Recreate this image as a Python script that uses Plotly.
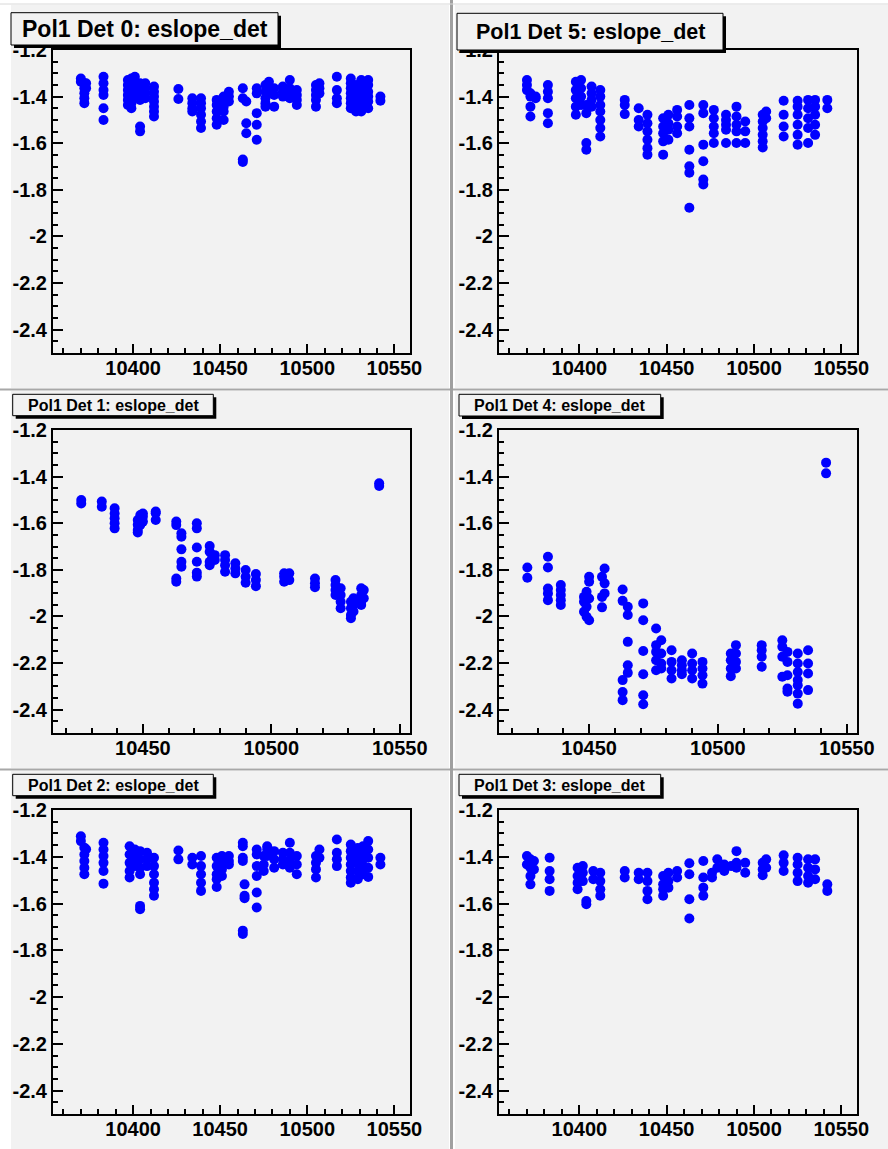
import plotly.graph_objects as go

W, H = 888, 1149

# ---------------- data (run number -> eslope values) ----------------
det0_runs = [10370, 10372, 10373, 10383, 10397, 10399, 10401, 10404, 10407, 10412,
             10426, 10434, 10439, 10448, 10452, 10455, 10463, 10465, 10471, 10476,
             10478, 10481, 10486, 10490, 10494, 10505, 10507, 10517, 10525, 10528,
             10531, 10535, 10542]
det0_vals = [[-1.322, -1.336], [-1.343, -1.364, -1.386, -1.407, -1.428], [-1.343, -1.364],
             [-1.315, -1.343, -1.372, -1.393, -1.450, -1.500],
             [-1.329, -1.350, -1.372, -1.393, -1.414, -1.436],
             [-1.322, -1.343, -1.364, -1.386, -1.407, -1.428, -1.450],
             [-1.315, -1.343, -1.372, -1.400],
             [-1.343, -1.364, -1.393, -1.414, -1.528, -1.549],
             [-1.343, -1.364, -1.386, -1.407],
             [-1.357, -1.379, -1.400, -1.421, -1.443, -1.464, -1.485],
             [-1.367, -1.410], [-1.407, -1.428, -1.450, -1.464],
             [-1.407, -1.428, -1.450, -1.478, -1.507, -1.535],
             [-1.414, -1.436, -1.464, -1.493, -1.521],
             [-1.400, -1.421, -1.443, -1.464, -1.500], [-1.379, -1.400, -1.421],
             [-1.364, -1.407, -1.670, -1.680], [-1.421, -1.514, -1.557],
             [-1.364, -1.386, -1.471, -1.521, -1.585],
             [-1.350, -1.379, -1.407, -1.428, -1.443], [-1.336, -1.364, -1.386],
             [-1.364, -1.393, -1.443], [-1.357, -1.379, -1.400],
             [-1.329, -1.364, -1.386, -1.407], [-1.372, -1.393, -1.414, -1.436],
             [-1.350, -1.372, -1.393, -1.414, -1.443], [-1.343, -1.364, -1.386],
             [-1.315, -1.372, -1.407, -1.428],
             [-1.322, -1.343, -1.364, -1.386, -1.407, -1.428, -1.450],
             [-1.350, -1.379, -1.407, -1.436, -1.464],
             [-1.329, -1.357, -1.386, -1.414, -1.443, -1.464],
             [-1.329, -1.350, -1.379, -1.400, -1.421, -1.450], [-1.400, -1.418]]

det5_runs = [10370, 10372, 10375, 10382, 10398, 10401, 10404, 10407, 10412, 10426,
             10434, 10439, 10448, 10451, 10456, 10463, 10471, 10477, 10484, 10490,
             10495, 10505, 10507, 10517, 10525, 10531, 10535, 10542]
det5_vals = [[-1.329, -1.350, -1.372], [-1.386, -1.400, -1.443, -1.485], [-1.400, -1.407],
             [-1.350, -1.379, -1.407, -1.471, -1.514],
             [-1.336, -1.372, -1.407, -1.443, -1.478], [-1.329, -1.364, -1.400, -1.436],
             [-1.436, -1.471, -1.599, -1.628], [-1.357, -1.386, -1.414, -1.443],
             [-1.372, -1.400, -1.436, -1.464, -1.500, -1.535, -1.571],
             [-1.414, -1.436, -1.475], [-1.450, -1.500, -1.528],
             [-1.478, -1.514, -1.549, -1.585, -1.621, -1.649],
             [-1.493, -1.528, -1.557, -1.592, -1.649], [-1.478, -1.514, -1.542, -1.585],
             [-1.457, -1.485, -1.528, -1.557],
             [-1.436, -1.493, -1.528, -1.628, -1.699, -1.727, -1.877],
             [-1.436, -1.471, -1.606, -1.677, -1.756, -1.777],
             [-1.457, -1.493, -1.528, -1.557, -1.599],
             [-1.478, -1.500, -1.521, -1.542, -1.599],
             [-1.443, -1.485, -1.521, -1.549, -1.599], [-1.507, -1.549, -1.599],
             [-1.478, -1.507, -1.535, -1.564, -1.592, -1.618], [-1.464, -1.493],
             [-1.418, -1.478, -1.528, -1.571],
             [-1.418, -1.443, -1.478, -1.521, -1.564, -1.606],
             [-1.414, -1.450, -1.493, -1.535, -1.599],
             [-1.414, -1.443, -1.478, -1.521, -1.564], [-1.414, -1.450]]

det1_runs = [10426, 10434, 10439, 10448, 10449, 10450, 10455, 10463, 10465, 10471,
             10476, 10477, 10478, 10482, 10486, 10490, 10494, 10505, 10507, 10517,
             10525, 10527, 10531, 10532, 10535, 10536, 10542]
det1_vals = [[-1.500, -1.515], [-1.507, -1.529], [-1.536, -1.558, -1.579, -1.600, -1.622],
             [-1.586, -1.607, -1.629, -1.640], [-1.565, -1.586, -1.607],
             [-1.558, -1.572, -1.593], [-1.550, -1.557, -1.586],
             [-1.593, -1.608, -1.837, -1.851], [-1.643, -1.658, -1.712, -1.765, -1.787],
             [-1.600, -1.622, -1.704, -1.765, -1.812, -1.829],
             [-1.698, -1.722, -1.765, -1.780], [-1.737, -1.751], [-1.737, -1.758],
             [-1.737, -1.758, -1.780, -1.808], [-1.772, -1.794, -1.815],
             [-1.801, -1.830, -1.855], [-1.818, -1.844, -1.870],
             [-1.815, -1.830, -1.851], [-1.815, -1.844], [-1.837, -1.858, -1.875],
             [-1.844, -1.865, -1.887, -1.908], [-1.879, -1.908, -1.937, -1.965],
             [-1.937, -1.965, -1.994, -2.008], [-1.922, -1.951, -1.979],
             [-1.879, -1.908, -1.937, -1.951], [-1.887, -1.922], [-1.429, -1.440]]

det4_runs = [10426, 10434, 10439, 10448, 10449, 10450, 10455, 10456, 10463, 10465,
             10471, 10476, 10478, 10482, 10486, 10490, 10494, 10505, 10507, 10517,
             10525, 10527, 10531, 10535, 10542]
det4_vals = [[-1.790, -1.834], [-1.744, -1.790, -1.880, -1.901, -1.930],
             [-1.865, -1.887, -1.908, -1.930, -1.951], [-1.916, -1.937, -1.980],
             [-1.894, -1.958, -2.001], [-1.830, -1.851, -1.923, -2.016],
             [-1.830, -1.916, -1.961], [-1.794, -1.858, -1.901],
             [-1.884, -1.933, -2.273, -2.324, -2.359],
             [-1.958, -1.994, -2.109, -2.209, -2.242],
             [-1.944, -2.016, -2.148, -2.248, -2.338, -2.377],
             [-2.052, -2.123, -2.152, -2.188, -2.231], [-2.102, -2.159, -2.202, -2.223],
             [-2.145, -2.195, -2.231, -2.266], [-2.188, -2.209, -2.231, -2.248],
             [-2.159, -2.202, -2.231, -2.266], [-2.195, -2.223, -2.252, -2.288],
             [-2.159, -2.188, -2.223, -2.256], [-2.123, -2.159, -2.195, -2.223],
             [-2.123, -2.145, -2.173, -2.216], [-2.102, -2.130, -2.173, -2.259],
             [-2.152, -2.195, -2.252, -2.309, -2.323],
             [-2.159, -2.202, -2.238, -2.273, -2.295, -2.331, -2.374],
             [-2.145, -2.202, -2.245, -2.316], [-1.340, -1.386]]

det2_runs = [10370, 10372, 10373, 10383, 10398, 10401, 10404, 10408, 10412, 10426,
             10434, 10439, 10448, 10451, 10455, 10463, 10464, 10471, 10475, 10477,
             10481, 10486, 10490, 10494, 10505, 10507, 10517, 10525, 10529, 10532,
             10535, 10542]
det2_vals = [[-1.312, -1.333], [-1.361, -1.390, -1.418, -1.447, -1.475], [-1.368],
             [-1.340, -1.369, -1.397, -1.426, -1.461, -1.515],
             [-1.355, -1.390, -1.426, -1.461, -1.489], [-1.369, -1.404, -1.440],
             [-1.376, -1.411, -1.447, -1.475, -1.610, -1.624],
             [-1.383, -1.411, -1.440],
             [-1.404, -1.440, -1.475, -1.511, -1.539, -1.567],
             [-1.373, -1.411], [-1.404, -1.433],
             [-1.397, -1.440, -1.475, -1.511, -1.546],
             [-1.404, -1.440, -1.475, -1.496, -1.529],
             [-1.397, -1.426, -1.454, -1.482], [-1.397, -1.418, -1.433],
             [-1.340, -1.355, -1.404, -1.418, -1.716, -1.730], [-1.518, -1.567, -1.577],
             [-1.369, -1.390, -1.440, -1.482, -1.553, -1.617],
             [-1.397, -1.433, -1.461], [-1.355, -1.369, -1.397],
             [-1.376, -1.411, -1.447], [-1.383, -1.411, -1.433],
             [-1.340, -1.383, -1.418, -1.447], [-1.397, -1.433, -1.475],
             [-1.397, -1.426, -1.454, -1.489], [-1.369, -1.404],
             [-1.326, -1.383, -1.411, -1.440],
             [-1.348, -1.376, -1.404, -1.433, -1.461, -1.489, -1.511],
             [-1.362, -1.397, -1.426, -1.461, -1.496],
             [-1.355, -1.383, -1.411, -1.440, -1.475],
             [-1.333, -1.369, -1.404, -1.447, -1.486], [-1.404, -1.433]]

det3_runs = [10370, 10372, 10374, 10383, 10399, 10402, 10404, 10408, 10412, 10426,
             10434, 10439, 10448, 10451, 10456, 10463, 10471, 10476, 10479, 10483,
             10487, 10490, 10495, 10505, 10507, 10517, 10525, 10531, 10535, 10542]
det3_vals = [[-1.397, -1.433], [-1.411, -1.447, -1.482, -1.518], [-1.418, -1.454],
             [-1.404, -1.461, -1.496, -1.546], [-1.447, -1.482, -1.511, -1.539],
             [-1.440, -1.468, -1.504], [-1.589, -1.603], [-1.461, -1.496],
             [-1.468, -1.504, -1.539, -1.567], [-1.461, -1.489], [-1.468, -1.496],
             [-1.468, -1.504, -1.546, -1.582], [-1.482, -1.518, -1.539, -1.567],
             [-1.468, -1.504, -1.532], [-1.461, -1.489],
             [-1.428, -1.475, -1.582, -1.664], [-1.418, -1.489, -1.532, -1.567],
             [-1.468, -1.489], [-1.411, -1.447], [-1.433, -1.461], [-1.440],
             [-1.376, -1.426, -1.447], [-1.426, -1.468], [-1.426, -1.454, -1.479],
             [-1.411, -1.447], [-1.394, -1.426, -1.461],
             [-1.404, -1.433, -1.468, -1.504], [-1.411, -1.447, -1.482, -1.511],
             [-1.411, -1.454, -1.496], [-1.518, -1.546]]

titles = ["Pol1 Det 0: eslope_det", "Pol1 Det 5: eslope_det",
          "Pol1 Det 1: eslope_det", "Pol1 Det 4: eslope_det",
          "Pol1 Det 2: eslope_det", "Pol1 Det 3: eslope_det"]

ytick_vals = [-1.2, -1.4, -1.6, -1.8, -2.0, -2.2, -2.4]
ytick_text = ["-1.2", "-1.4", "-1.6", "-1.8", "-2", "-2.2", "-2.4"]
xtick_vals = [10400, 10450, 10500, 10550]
xtick_text = ["10400", "10450", "10500", "10550"]

y_range = [-2.5, -1.2]
x_range_full = [10354, 10559]
x_range_mid = [10415, 10554]

# ---------------- layout helpers ----------------
def px(x):
    return x / W


def py(y):
    return 1 - y / H


panels = [
    # runs, vals, frame(x0,y0,x1,y1) px, xrange, title box px, title size
    (det0_runs, det0_vals, (53, 50, 410, 353), x_range_full, (11, 12.7, 278, 45), 23),
    (det5_runs, det5_vals, (499, 50, 857, 353), x_range_full, (457, 13.3, 723, 50), 21.5),
    (det1_runs, det1_vals, (53, 430, 410, 733), x_range_mid, (12.7, 394.3, 213.3, 415.7), 16),
    (det4_runs, det4_vals, (499, 430, 857, 733), x_range_mid, (459, 394.3, 660.7, 416), 16),
    (det2_runs, det2_vals, (53, 810, 410, 1114), x_range_full, (12.7, 774.3, 213.3, 795.7), 16),
    (det3_runs, det3_vals, (499, 810, 857, 1114), x_range_full, (459, 774.3, 660.7, 795.7), 16),
]

BG = "#f2f2f2"
fig = go.Figure()
shapes = []
annotations = []
layout = {}

# pads
pads = [(11, 5, 449, 388), (455, 5, 888, 388),
        (11, 391, 449, 768), (455, 391, 888, 768),
        (11, 771, 449, 1149), (455, 771, 888, 1149)]
for (x0, y0, x1, y1) in pads:
    shapes.append(dict(type="rect", xref="paper", yref="paper", layer="below",
                       x0=px(x0), x1=px(x1), y0=py(y1), y1=py(y0),
                       fillcolor=BG, line=dict(width=0)))
# separators
for yy in (389.5, 769.5):
    shapes.append(dict(type="line", xref="paper", yref="paper", layer="below",
                       x0=0, x1=1, y0=py(yy), y1=py(yy),
                       line=dict(color="#a8a8a8", width=2)))
shapes.append(dict(type="line", xref="paper", yref="paper", layer="below",
                   x0=px(451.5), x1=px(451.5), y0=0, y1=1,
                   line=dict(color="#a0a0a0", width=3)))
shapes.append(dict(type="line", xref="paper", yref="paper", layer="below",
                   x0=0, x1=1, y0=py(4), y1=py(4),
                   line=dict(color="#d8d8d8", width=1)))

tickfont = dict(family="Liberation Sans, Arial, sans-serif", size=20, color="black",
                weight="bold")

for i, (runs, vals, frame, xr, tbox, tsize) in enumerate(panels):
    n = i + 1
    xs, ys = [], []
    for r, vs in zip(runs, vals):
        for v in vs:
            xs.append(r)
            ys.append(v)
    xa = "x" if n == 1 else f"x{n}"
    ya = "y" if n == 1 else f"y{n}"
    fig.add_trace(go.Scatter(x=xs, y=ys, mode="markers", xaxis=xa, yaxis=ya,
                             marker=dict(size=10, color="#0000ff", line=dict(width=0)),
                             showlegend=False, hoverinfo="x+y"))
    x0, y0, x1, y1 = frame
    layout["xaxis" if n == 1 else f"xaxis{n}"] = dict(
        domain=[px(x0), px(x1)], anchor=ya, range=xr, automargin=False,
        tickmode="array", tickvals=xtick_vals, ticktext=xtick_text,
        ticks="inside", ticklen=9, tickwidth=1.5, tickcolor="black",
        minor=dict(ticks="inside", ticklen=5, tickwidth=1.5, tickcolor="black",
                   dtick=10, tick0=10350),
        showline=True, linecolor="black", linewidth=2, mirror=True,
        showgrid=False, zeroline=False, tickfont=tickfont, fixedrange=True,
        ticklabelstandoff=-4)
    layout["yaxis" if n == 1 else f"yaxis{n}"] = dict(
        domain=[py(y1), py(y0)], anchor=xa, range=y_range, automargin=False,
        tickmode="array", tickvals=ytick_vals, ticktext=ytick_text,
        ticks="inside", ticklen=10, tickwidth=1.5, tickcolor="black",
        minor=dict(ticks="inside", ticklen=5, tickwidth=1.5, tickcolor="black",
                   dtick=0.05, tick0=-2.5),
        showline=True, linecolor="black", linewidth=2, mirror=True,
        showgrid=False, zeroline=False, tickfont=tickfont, fixedrange=True,
        ticklabelstandoff=0)
    # title box with shadow
    bx0, by0, bx1, by1 = tbox
    shapes.append(dict(type="rect", xref="paper", yref="paper", layer="above",
                       x0=px(bx0 + 3), x1=px(bx1 + 3), y0=py(by1 + 3), y1=py(by0 + 3),
                       fillcolor="black", line=dict(width=0)))
    shapes.append(dict(type="rect", xref="paper", yref="paper", layer="above",
                       x0=px(bx0), x1=px(bx1), y0=py(by1), y1=py(by0),
                       fillcolor=BG, line=dict(color="black", width=1)))
    annotations.append(dict(xref="paper", yref="paper", x=px((bx0 + bx1) / 2),
                            y=py((by0 + by1) / 2), text=titles[i], showarrow=False,
                            xanchor="center", yanchor="middle",
                            font=dict(family="Liberation Sans, Arial, sans-serif",
                                      size=tsize, color="black", weight="bold")))

fig.update_layout(width=W, height=H, autosize=False,
                  margin=dict(l=0, r=0, t=0, b=0, pad=0, autoexpand=False),
                  paper_bgcolor="white", plot_bgcolor=BG, showlegend=False,
                  shapes=shapes, annotations=annotations, **layout)

pin_js = ("document.documentElement.style.margin='0';"
          "document.documentElement.style.overflow='hidden';"
          "document.body.style.margin='0';document.body.style.padding='0';"
          "document.body.style.overflow='hidden';"
          "var gd=document.getElementById('{plot_id}');"
          "gd.style.position='fixed';gd.style.left='0px';gd.style.top='0px';"
          "window.scrollTo(0,0);")
fig.write_html("out.html", post_script=pin_js,
               config={"displayModeBar": False, "responsive": False})
